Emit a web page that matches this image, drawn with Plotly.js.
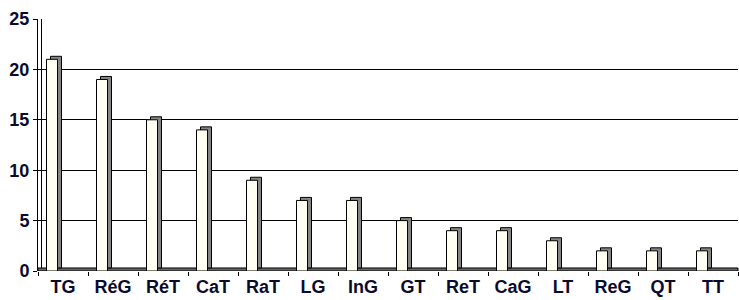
<!DOCTYPE html>
<html>
<head>
<meta charset="utf-8">
<script src="https://cdn.plot.ly/plotly-3.0.1.min.js"></script>
<style>html,body{margin:0;padding:0;background:#fff;}#chart{width:739px;height:300px;}</style>
</head>
<body>
<div id="chart"></div>
<script>
const categories = ["TG","RéG","RéT","CaT","RaT","LG","InG","GT","ReT","CaG","LT","ReG","QT","TT"];
const values = [21,19,15,14,9,7,7,5,4,4,3,2,2,2];
const yTicks = [0,5,10,15,20,25];

const depthY = 0.3;
const labelColor = "#0a0a2e";

const shadow = {
  type: "bar", x: categories, y: values, base: depthY,
  width: 0.22, offset: -0.25,
  marker: {color: "#858585", line: {color: "#000", width: 1}},
  hoverinfo: "skip", showlegend: false
};
const front = {
  type: "bar", x: categories, y: values,
  width: 0.22, offset: -0.33,
  marker: {color: "#fffff2", line: {color: "#000", width: 1}},
  showlegend: false
};

const layout = {
  width: 739, height: 300,
  margin: {l: 38, r: 1, t: 19, b: 29},
  paper_bgcolor: "#fff", plot_bgcolor: "#fff",
  barmode: "overlay",
  font: {family: "Liberation Sans, Arial, sans-serif", size: 18, color: labelColor},
  xaxis: {
    type: "category", tickson: "boundaries", ticks: "outside", ticklen: 4,
    tickcolor: "#000", showline: false, showgrid: false, zeroline: false,
    tickfont: {size: 18, color: labelColor, weight: "bold"},
    ticklabelstandoff: 3,
    range: [-0.5, 13.5], fixedrange: true
  },
  yaxis: {
    range: [0, 25], tickvals: yTicks, ticktext: yTicks.map(String),
    ticks: "outside", ticklen: 4, tickcolor: "#000",
    showline: true, linecolor: "#000", linewidth: 1,
    showgrid: true, gridcolor: "#000", gridwidth: 1, zeroline: false,
    tickfont: {size: 18, color: labelColor, weight: "bold"}, fixedrange: true
  },
  shapes: [
    {type: "rect", xref: "paper", yref: "y", x0: 0, x1: 1, y0: 0, y1: depthY,
     fillcolor: "#666", line: {color: "#000", width: 1}, layer: "below"},
    {type: "line", xref: "paper", yref: "y", x0: 0.005, x1: 0.005, y0: depthY, y1: 25,
     line: {color: "#000", width: 1}}
  ]
};

Plotly.newPlot("chart", [shadow, front], layout, {displayModeBar: false, staticPlot: true});
</script>
</body>
</html>
